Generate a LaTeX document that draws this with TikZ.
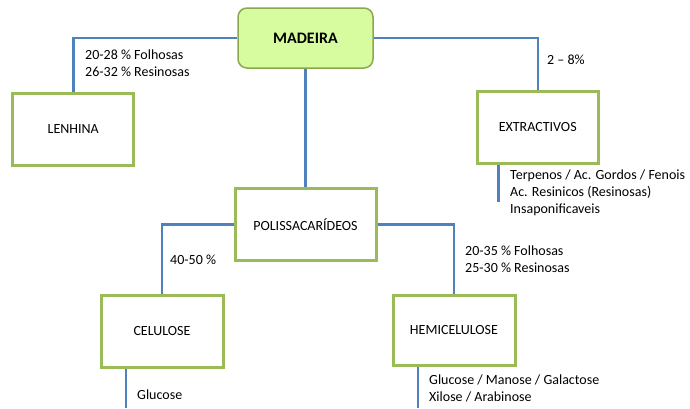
\documentclass[tikz,border=0pt]{standalone}
\usepackage{fontspec}
\setmainfont{Carlito}
\usetikzlibrary{positioning}
\definecolor{boxgreen}{RGB}{155,187,89}
\definecolor{rootfill}{RGB}{215,252,160}
\definecolor{linkblue}{RGB}{79,129,189}
\tikzset{
    x=1pt, y=-1pt,
    font=\fontsize{14}{17}\selectfont,
    wood_root/.style={
        rectangle,
        rounded corners=9pt,
        draw=boxgreen!90!black,
        fill=rootfill,
        line width=1.5pt,
        minimum width=135pt,
        minimum height=60pt,
        font=\fontsize{16}{19}\selectfont\bfseries,
        align=center
    },
    wood_part/.style={
        rectangle,
        draw=boxgreen,
        fill=white,
        line width=3pt,
        minimum width=121pt,
        minimum height=72pt,
        align=center
    },
    wood_link/.style={
        draw=linkblue,
        line width=2.5pt
    },
    wood_note/.style={
        align=left,
        inner sep=0pt,
        anchor=west
    }
}

\begin{document}
\begin{tikzpicture}
\useasboundingbox (0,0) rectangle (690,408);

% --- Boxes ---
\node[wood_root] (Madeira) at (305.5,38) {MADEIRA};
\node[wood_part, below=118pt of Madeira, minimum width=141pt] (Polissacaridos) {POLISSACARÍDEOS};
\node[wood_part, below left=23pt and 102pt of Madeira] (Lenhina) {LENHINA};
\node[wood_part, below right=21pt and 102pt of Madeira] (Extractivos) {EXTRACTIVOS};
\node[wood_part, below left=32pt and 9pt of Polissacaridos, minimum width=122pt] (Celulose) {CELULOSE};
\node[wood_part, below right=32pt and 14pt of Polissacaridos, minimum width=122pt, minimum height=70pt] (Hemicelulose) {HEMICELULOSE};

% --- Free ends of the stubs ---
\coordinate (ExtTail) at ([xshift=-39.5pt, yshift=-37pt]Extractivos.south);
\coordinate (CelTail) at ([xshift=-36pt]Celulose.south |- 0,408);
\coordinate (HemTail) at ([xshift=-36pt]Hemicelulose.south |- 0,408);

% --- Connectors ---
\draw[wood_link] (Madeira.west) -| (Lenhina.north);
\draw[wood_link] (Madeira.east) -| (Extractivos.north);
\draw[wood_link] (Madeira.south) -- (Madeira.south |- Polissacaridos.north);
\draw[wood_link] (Polissacaridos.west) -| (Celulose.north);
\draw[wood_link] (Polissacaridos.east) -| (Hemicelulose.north);
\draw[wood_link] (ExtTail |- Extractivos.south) -- (ExtTail);
\draw[wood_link] (CelTail |- Celulose.south) -- (CelTail);
\draw[wood_link] (HemTail |- Hemicelulose.south) -- (HemTail);

% --- Notes ---
\node[wood_note] (LenNote) at (85,63) {20-28 \% Folhosas\\26-32 \% Resinosas};
\node[wood_note] (ExtPct) at (547,60) {2 – 8\%};
\node[wood_note] (ExtNote) at (510,193) {Terpenos / Ac. Gordos / Fenois\\Ac. Resinicos (Resinosas)\\Insaponificaveis};
\node[wood_note] (CelPct) at (170,260) {40-50 \%};
\node[wood_note] (HemPct) at (465,259.5) {20-35 \% Folhosas\\25-30 \% Resinosas};
\node[wood_note] (CelNote) at (137,395) {Glucose};
\node[wood_note] (HemNote) at (429,388.5) {Glucose / Manose / Galactose\\Xilose / Arabinose};

\end{tikzpicture}
\end{document}
